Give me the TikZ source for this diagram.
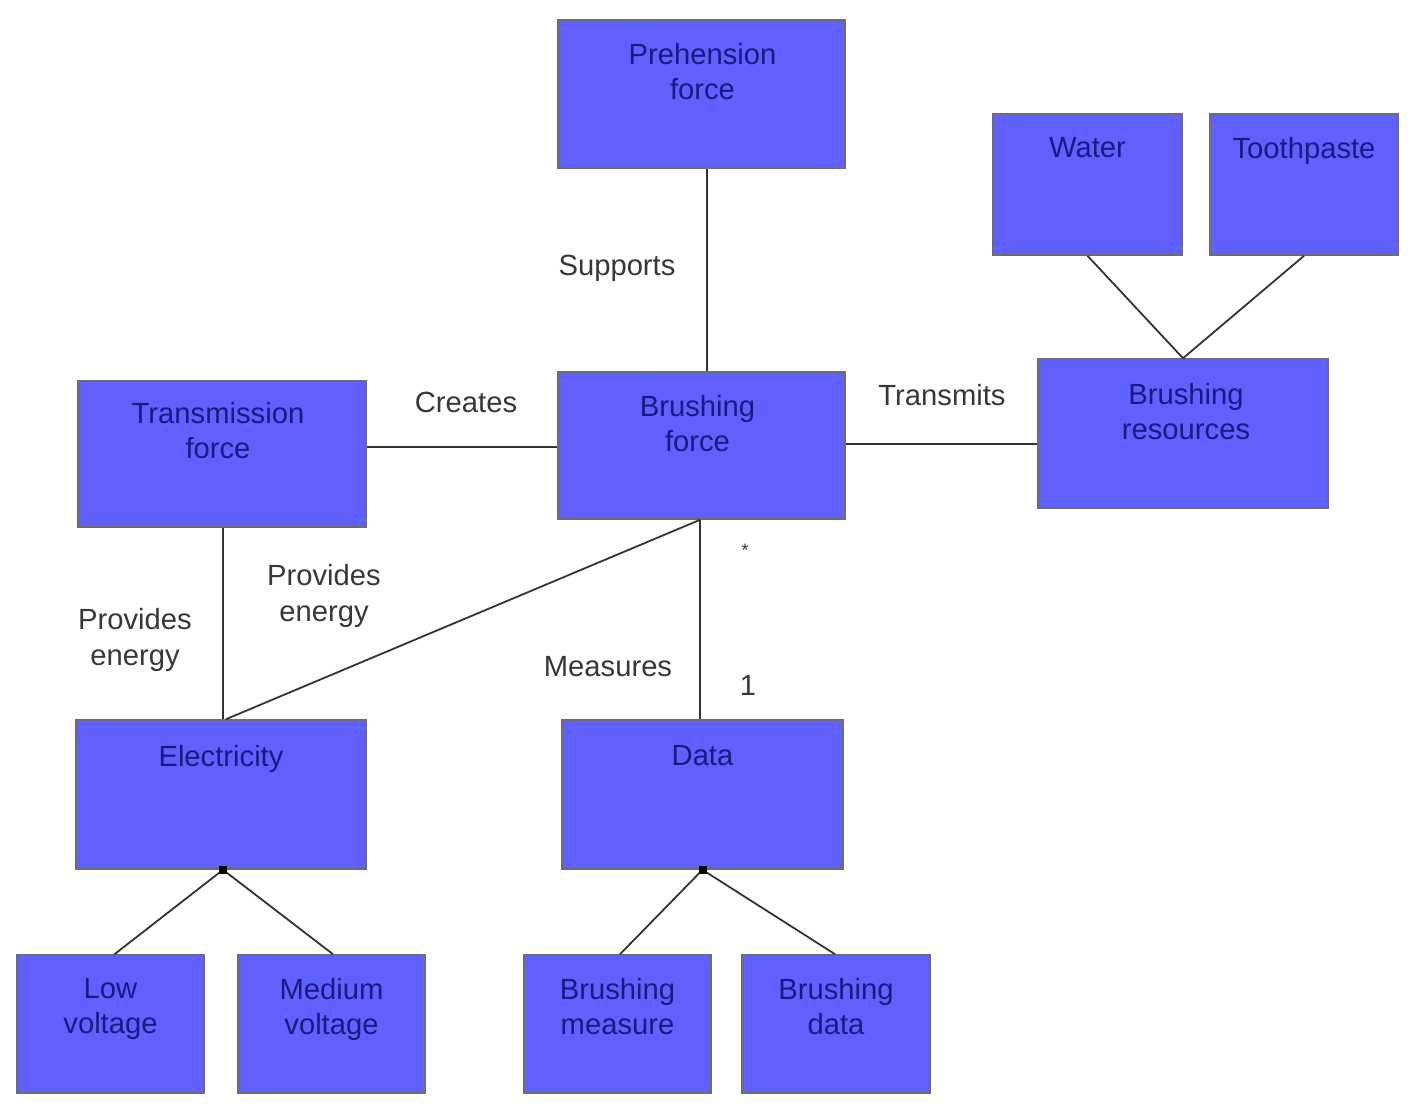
\documentclass[tikz,border=0pt]{standalone}
\usepackage{fontspec}
\setmainfont{Liberation Sans}
\usetikzlibrary{calc}
\definecolor{boxblue}{RGB}{96,96,255}
\definecolor{boxtext}{RGB}{26,26,130}
\definecolor{lbl}{RGB}{55,55,55}
\definecolor{edge}{RGB}{70,70,90}
\tikzset{
  box/.style={rectangle, draw=edge!80, line width=0.8pt, fill=boxblue, inner sep=0pt},
  btext/.style={anchor=north, align=center, inner sep=0pt, text=boxtext, font=\fontsize{14.6}{17.5}\selectfont},
  lab/.style={align=center, inner sep=0pt, text=lbl, font=\fontsize{14.6}{18}\selectfont},
  conn/.style={draw=black!80, line width=0.9pt},
  joint/.style={rectangle, fill=black, inner sep=0pt, minimum size=4pt}
}
\begin{document}
\begin{tikzpicture}[x=0.5pt, y=-0.5pt]
\useasboundingbox (0,0) rectangle (1416,1110);
% boxes
\node[box, minimum width=143.5pt, minimum height=74pt] (pre) at (701.5,94) {};
\node[box, minimum width=94.5pt, minimum height=70.5pt] (water) at (1087.5,184.5) {};
\node[box, minimum width=94pt, minimum height=70.5pt] (tooth) at (1304,184.5) {};
\node[box, minimum width=144pt, minimum height=73pt] (trans) at (222,454) {};
\node[box, minimum width=143.5pt, minimum height=73.5pt] (bf) at (701.5,445.5) {};
\node[box, minimum width=145pt, minimum height=74.5pt] (res) at (1183,433.5) {};
\node[box, minimum width=145pt, minimum height=74.5pt] (elec) at (221,794.5) {};
\node[box, minimum width=140.5pt, minimum height=74.5pt] (data) at (702.5,794.5) {};
\node[box, minimum width=93.5pt, minimum height=69pt] (low) at (110.5,1024) {};
\node[box, minimum width=93.5pt, minimum height=69pt] (med) at (331.5,1024) {};
\node[box, minimum width=93.5pt, minimum height=69pt] (bmeas) at (617.5,1024) {};
\node[box, minimum width=94pt, minimum height=69pt] (bdata) at (836,1024) {};
% box texts
\node[btext] (tpre) at ($(pre.north)+(1,24)$) {Prehension\\force};
\node[btext] (twater) at ($(water.north)+(0,24)$) {Water};
\node[btext] (ttooth) at ($(tooth.north)+(0,24)$) {Toothpaste};
\node[btext] (ttrans) at ($(trans.north)+(-4,22)$) {Transmission\\force};
\node[btext] (tbf) at ($(bf.north)+(-4,24)$) {Brushing\\force};
\node[btext] (tres) at ($(res.north)+(3,25)$) {Brushing\\resources};
\node[btext] (telec) at ($(elec.north)+(0,26)$) {Electricity};
\node[btext] (tdata) at ($(data.north)+(0,26)$) {Data};
\node[btext] (tlow) at ($(low.north)+(0,24)$) {Low\\voltage};
\node[btext] (tmed) at ($(med.north)+(0,24)$) {Medium\\voltage};
\node[btext] (tbmeas) at ($(bmeas.north)+(0,24)$) {Brushing\\measure};
\node[btext] (tbdata) at ($(bdata.north)+(0,24)$) {Brushing\\data};
% connectors
\draw[conn] ($(pre.south)+(5.5,0)$) -- ($(bf.north)+(5.5,0)$);
\draw[conn] (water.south) -- (res.north);
\draw[conn] (tooth.south) -- (res.north);
\draw[conn] ($(bf.west)+(0,1.5)$) -- ($(bf.west -| trans.east)+(0,1.5)$);
\draw[conn] ($(bf.east)+(0,-1.5)$) -- ($(bf.east -| res.west)+(0,-1.5)$);
\draw[conn] ($(trans.south)+(1,0)$) -- ($(trans.south |- elec.north)+(1,0)$);
\draw[conn] ($(bf.south)+(-1.5,0)$) -- ($(bf.south |- data.north)+(-1.5,0)$);
\draw[conn] ($(bf.south)+(-1.5,0)$) -- ($(elec.north)+(5,0)$);
\coordinate (ej) at ($(elec.south)+(2,0)$);
\coordinate (dj) at (data.south);
\draw[conn] (ej) -- ($(low.north)+(4,0)$);
\draw[conn] (ej) -- ($(med.north)+(1.5,0)$);
\draw[conn] (dj) -- ($(bmeas.north)+(2.5,0)$);
\draw[conn] (dj) -- ($(bdata.north)+(-1,0)$);
\node[joint] (ejd) at (ej) {};
\node[joint] (djd) at (dj) {};
% labels
\node[lab] (lsup) at (617,268) {Supports};
\node[lab] (lcre) at (466,402) {Creates};
\node[lab] (ltra) at (942,395) {Transmits};
\node[lab] (lpe1) at (135,640) {Provides\\energy};
\node[lab] (lpe2) at (324,596) {Provides\\energy};
\node[lab] (lmea) at (608,667) {Measures};
\node[lab, font=\fontsize{9}{10}\selectfont] (lstar) at (745,550) {*};
\node[lab] (lone) at (748,685) {1};
\end{tikzpicture}
\end{document}
